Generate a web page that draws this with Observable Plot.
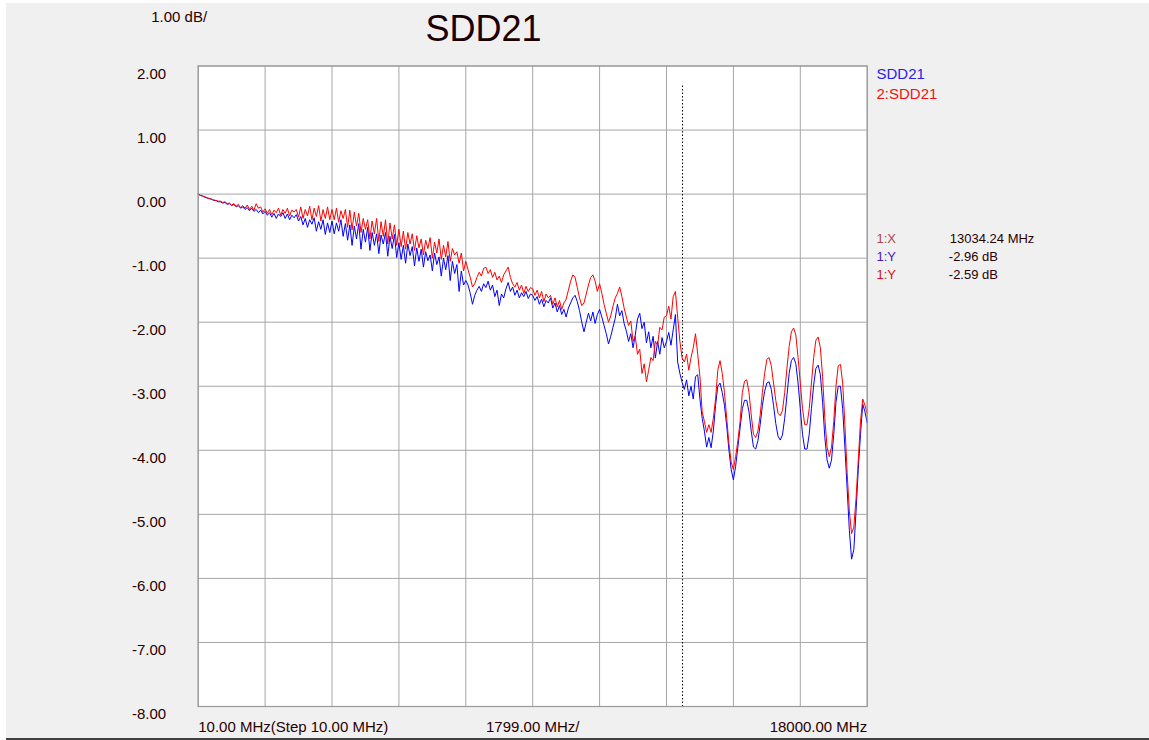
<!DOCTYPE html>
<html><head><meta charset="utf-8">
<script src="https://cdn.jsdelivr.net/npm/d3@7"></script>
<script src="https://cdn.jsdelivr.net/npm/@observablehq/plot@0.6"></script>
<style>
html,body{margin:0;padding:0;background:#fff;overflow:hidden;width:1149px;height:740px;}
#bg{position:absolute;left:6px;top:3px;right:0;height:735px;background:#f0f0f0;border-bottom:2px solid #404040;}
#chart{position:absolute;left:0;top:0;}
</style></head><body><div id="bg"></div><div id="chart"></div>
<script>
// ---- data ----
const titleText = "SDD21";
const freqStartMHz = 10, freqStopMHz = 18000, freqStepMHz = 10, divMHz = 1799;
const dbPerDiv = 1.00;
const yTicks = [2, 1, 0, -1, -2, -3, -4, -5, -6, -7, -8];
const traceNames = ["SDD21", "2:SDD21"];
const markerMHz = 13034.24;
const markerDb = [-2.96, -2.59];

// trace 1 (blue, SDD21), dB, equally spaced from 10 MHz to 18000 MHz
const trace1 = [
0.00,-0.02,-0.03,-0.05,-0.06,-0.07,-0.08,-0.10,-0.10,-0.12,-0.12,-0.14,-0.13,-0.16,-0.15,-0.18,-0.16,-0.20,-0.18,-0.22,-0.20,-0.24,-0.21,-0.26,-0.22,-0.27,-0.24,-0.29,-0.25,-0.31,
-0.27,-0.33,-0.29,-0.36,-0.30,-0.38,-0.31,-0.35,-0.29,-0.38,-0.31,-0.40,-0.33,-0.37,-0.32,-0.42,-0.35,-0.48,-0.38,-0.52,-0.40,-0.47,-0.37,-0.58,-0.43,-0.55,-0.40,-0.63,-0.45,-0.60,
-0.42,-0.62,-0.45,-0.58,-0.40,-0.66,-0.46,-0.72,-0.48,-0.80,-0.50,-0.70,-0.46,-0.86,-0.55,-0.75,-0.52,-0.88,-0.60,-0.80,-0.62,-0.93,-0.64,-0.78,-0.60,-0.97,-0.66,-0.85,-0.63,-0.99,
-0.76,-1.02,-0.80,-1.08,-0.78,-0.96,-0.82,-1.12,-0.84,-1.05,-0.86,-1.14,-0.90,-1.04,-0.95,-1.20,-0.92,-1.10,-0.98,-1.28,-1.00,-1.18,-0.96,-1.35,-1.05,-1.24,-1.10,-1.52,-1.20,-1.42,
-1.35,-1.42,-1.55,-1.72,-1.58,-1.50,-1.44,-1.52,-1.40,-1.46,-1.36,-1.50,-1.42,-1.60,-1.50,-1.74,-1.56,-1.62,-1.48,-1.38,-1.52,-1.45,-1.58,-1.50,-1.62,-1.54,-1.60,-1.52,-1.63,-1.56,
-1.58,-1.66,-1.60,-1.72,-1.64,-1.76,-1.66,-1.70,-1.62,-1.78,-1.70,-1.84,-1.74,-1.88,-1.80,-1.92,-1.78,-1.70,-1.62,-1.58,-1.68,-1.82,-2.00,-2.15,-2.00,-1.86,-1.98,-1.84,-2.02,-1.88,
-1.80,-1.92,-2.05,-2.18,-2.34,-2.22,-2.08,-1.94,-1.72,-1.90,-1.82,-2.02,-2.14,-2.30,-2.18,-2.40,-2.20,-1.95,-1.86,-2.10,-2.00,-2.32,-2.15,-2.40,-2.22,-2.56,-2.30,-2.50,-2.24,-2.40,
-2.30,-2.16,-2.36,-2.12,-1.88,-2.62,-2.80,-2.94,-3.05,-2.90,-3.15,-3.00,-3.20,-2.85,-2.82,-3.20,-3.50,-3.70,-3.95,-3.80,-3.96,-3.70,-3.30,-3.00,-2.95,-3.10,-3.30,-3.62,-4.00,-4.30,
-4.46,-4.25,-3.95,-3.65,-3.35,-3.22,-3.22,-3.40,-3.70,-3.95,-3.98,-3.85,-3.60,-3.30,-3.08,-2.95,-2.93,-3.05,-3.30,-3.58,-3.78,-3.84,-3.76,-3.50,-3.15,-2.80,-2.60,-2.55,-2.65,-2.95,
-3.35,-3.75,-3.98,-3.98,-3.75,-3.35,-2.98,-2.72,-2.67,-2.82,-3.25,-3.80,-4.15,-4.28,-4.15,-3.75,-3.25,-3.00,-3.00,-3.35,-3.95,-4.60,-5.25,-5.70,-5.55,-4.95,-4.30,-3.75,-3.28,-3.40,-3.57
];

// trace 2 (red, 2:SDD21), dB, same frequencies
const trace2 = [
0.00,-0.02,-0.03,-0.04,-0.06,-0.07,-0.08,-0.09,-0.10,-0.11,-0.11,-0.13,-0.12,-0.15,-0.14,-0.17,-0.15,-0.19,-0.16,-0.21,-0.18,-0.22,-0.17,-0.24,-0.19,-0.25,-0.15,-0.22,-0.20,-0.28,
-0.23,-0.30,-0.24,-0.32,-0.25,-0.29,-0.22,-0.33,-0.24,-0.30,-0.22,-0.34,-0.25,-0.28,-0.24,-0.36,-0.20,-0.38,-0.24,-0.34,-0.19,-0.40,-0.22,-0.35,-0.18,-0.42,-0.24,-0.38,-0.20,-0.40,
-0.24,-0.40,-0.22,-0.44,-0.26,-0.38,-0.24,-0.52,-0.25,-0.56,-0.28,-0.50,-0.30,-0.60,-0.38,-0.55,-0.40,-0.70,-0.42,-0.62,-0.38,-0.74,-0.43,-0.66,-0.40,-0.78,-0.45,-0.70,-0.48,-0.80,
-0.55,-0.82,-0.58,-0.86,-0.60,-0.78,-0.62,-0.88,-0.65,-0.84,-0.70,-0.95,-0.72,-0.85,-0.68,-1.00,-0.75,-0.92,-0.70,-1.02,-0.80,-0.98,-0.74,-1.05,-0.85,-0.95,-0.90,-1.08,-0.92,-1.20,
-1.05,-1.18,-1.30,-1.45,-1.40,-1.30,-1.22,-1.28,-1.16,-1.14,-1.24,-1.18,-1.30,-1.22,-1.34,-1.28,-1.38,-1.26,-1.20,-1.14,-1.30,-1.40,-1.45,-1.38,-1.50,-1.42,-1.55,-1.44,-1.52,-1.46,
-1.48,-1.58,-1.50,-1.62,-1.52,-1.68,-1.56,-1.62,-1.58,-1.72,-1.62,-1.76,-1.66,-1.80,-1.70,-1.64,-1.50,-1.36,-1.26,-1.30,-1.46,-1.62,-1.74,-1.70,-1.56,-1.42,-1.30,-1.26,-1.36,-1.52,
-1.40,-1.55,-1.72,-1.86,-2.00,-1.90,-1.75,-1.62,-1.55,-1.45,-1.60,-1.78,-1.92,-2.05,-1.98,-2.30,-2.22,-2.50,-2.42,-2.80,-2.65,-2.93,-2.75,-2.55,-2.60,-2.30,-2.36,-2.08,-2.12,-1.92,
-1.90,-1.75,-1.95,-1.60,-1.52,-1.92,-2.30,-2.56,-2.62,-2.50,-2.75,-2.55,-2.40,-2.18,-2.50,-2.85,-3.40,-3.55,-3.72,-3.60,-3.72,-3.50,-3.20,-2.75,-2.60,-2.80,-3.10,-3.50,-3.90,-4.18,
-4.30,-4.10,-3.85,-3.55,-3.10,-2.92,-2.90,-3.10,-3.45,-3.75,-3.80,-3.70,-3.45,-3.10,-2.80,-2.58,-2.55,-2.68,-2.95,-3.22,-3.42,-3.46,-3.38,-3.10,-2.72,-2.38,-2.15,-2.09,-2.20,-2.55,
-2.95,-3.35,-3.60,-3.60,-3.35,-2.95,-2.55,-2.28,-2.23,-2.40,-2.85,-3.50,-3.95,-4.10,-3.95,-3.55,-3.00,-2.68,-2.66,-2.95,-3.60,-4.35,-4.95,-5.30,-5.20,-4.75,-4.15,-3.55,-3.20,-3.30,-3.42
];

// ---- build ----
const n = trace1.length;
const freq = d3.range(n).map(i => freqStartMHz + i * (freqStopMHz - freqStartMHz) / (n - 1));
const rows1 = freq.map((f, i) => ({f, v: trace1[i]}));
const rows2 = freq.map((f, i) => ({f, v: trace2[i]}));
const xGrid = d3.range(11).map(k => freqStartMHz + k * divMHz);

const ink = "#2a0000";
const font = "'Liberation Sans', Arial, sans-serif";
const gridColor = "#a6a6a6";
const mid = {lineAnchor: "middle"};

const xLabels = [
  {t: `${freqStartMHz.toFixed(2)} MHz(Step ${freqStepMHz.toFixed(2)} MHz)`, a: "bottom-left", anchor: "start"},
  {t: `${divMHz.toFixed(2)} MHz/`, a: "bottom", anchor: "middle"},
  {t: `${freqStopMHz.toFixed(2)} MHz`, a: "bottom-right", anchor: "end"}
];

const chart = Plot.plot({
  width: 1149, height: 740,
  marginLeft: 197.7, marginRight: 282.3, marginTop: 65.5, marginBottom: 34,
  x: {domain: [freqStartMHz, freqStopMHz], axis: null},
  y: {domain: [d3.min(yTicks), d3.max(yTicks)], axis: null},
  style: {background: "transparent", fontFamily: font, overflow: "visible"},
  marks: [
    Plot.frame({fill: "white", stroke: null}),
    Plot.ruleX(xGrid, {stroke: gridColor, strokeWidth: 1}),
    Plot.ruleY(yTicks, {stroke: gridColor, strokeWidth: 1}),
    Plot.ruleX([markerMHz], {stroke: "#000", strokeWidth: 1, strokeDasharray: "1.5,2", insetTop: 20}),
    Plot.line(rows1, {x: "f", y: "v", stroke: "#0000ff", strokeWidth: 1}),
    Plot.line(rows2, {x: "f", y: "v", stroke: "#ff0000", strokeWidth: 1}),
    Plot.frame({stroke: "#9a9a9a", strokeWidth: 1.2}),
    // y tick labels
    Plot.text(yTicks, {frameAnchor: "left", y: d => d, text: d => d.toFixed(2), textAnchor: "end", dx: -32, dy: 8, fontSize: 15, fill: ink, ...mid}),
    // x labels
    ...xLabels.map(l => Plot.text([l.t], {frameAnchor: l.a, textAnchor: l.anchor, dy: 21, fontSize: 15, fill: ink, ...mid})),
    // scale and title
    Plot.text([`${dbPerDiv.toFixed(2)} dB/`], {frameAnchor: "top-left", textAnchor: "start", dx: -47, dy: -48.5, fontSize: 15, fill: ink, ...mid}),
    Plot.text([titleText], {frameAnchor: "top-left", textAnchor: "middle", dx: 285.3, dy: -37, fontSize: 36, fill: "#1a0000", ...mid}),
    // legend
    Plot.text([traceNames[0]], {frameAnchor: "top-right", textAnchor: "start", dx: 9.3, dy: 8.5, fontSize: 15, fill: "#2a1ee0", ...mid}),
    Plot.text([traceNames[1]], {frameAnchor: "top-right", textAnchor: "start", dx: 9.3, dy: 27.8, fontSize: 15, fill: "#f01010", ...mid}),
    // marker readouts
    Plot.text(["1:X"], {frameAnchor: "top-right", textAnchor: "start", dx: 9.3, dy: 172.8, fontSize: 13, fill: "#b04848", ...mid}),
    Plot.text([`${markerMHz.toFixed(2)} MHz`], {frameAnchor: "top-right", textAnchor: "start", dx: 82.6, dy: 172.8, fontSize: 13, fill: ink, ...mid}),
    Plot.text(["1:Y"], {frameAnchor: "top-right", textAnchor: "start", dx: 9.3, dy: 191.2, fontSize: 13, fill: "#4a18c0", ...mid}),
    Plot.text([`${markerDb[0].toFixed(2)} dB`], {frameAnchor: "top-right", textAnchor: "start", dx: 81.6, dy: 191.2, fontSize: 13, fill: ink, ...mid}),
    Plot.text(["1:Y"], {frameAnchor: "top-right", textAnchor: "start", dx: 9.3, dy: 208.8, fontSize: 13, fill: "#e01010", ...mid}),
    Plot.text([`${markerDb[1].toFixed(2)} dB`], {frameAnchor: "top-right", textAnchor: "start", dx: 81.6, dy: 208.8, fontSize: 13, fill: ink, ...mid})
  ]
});
document.getElementById("chart").appendChild(chart);
</script>
</body></html>
